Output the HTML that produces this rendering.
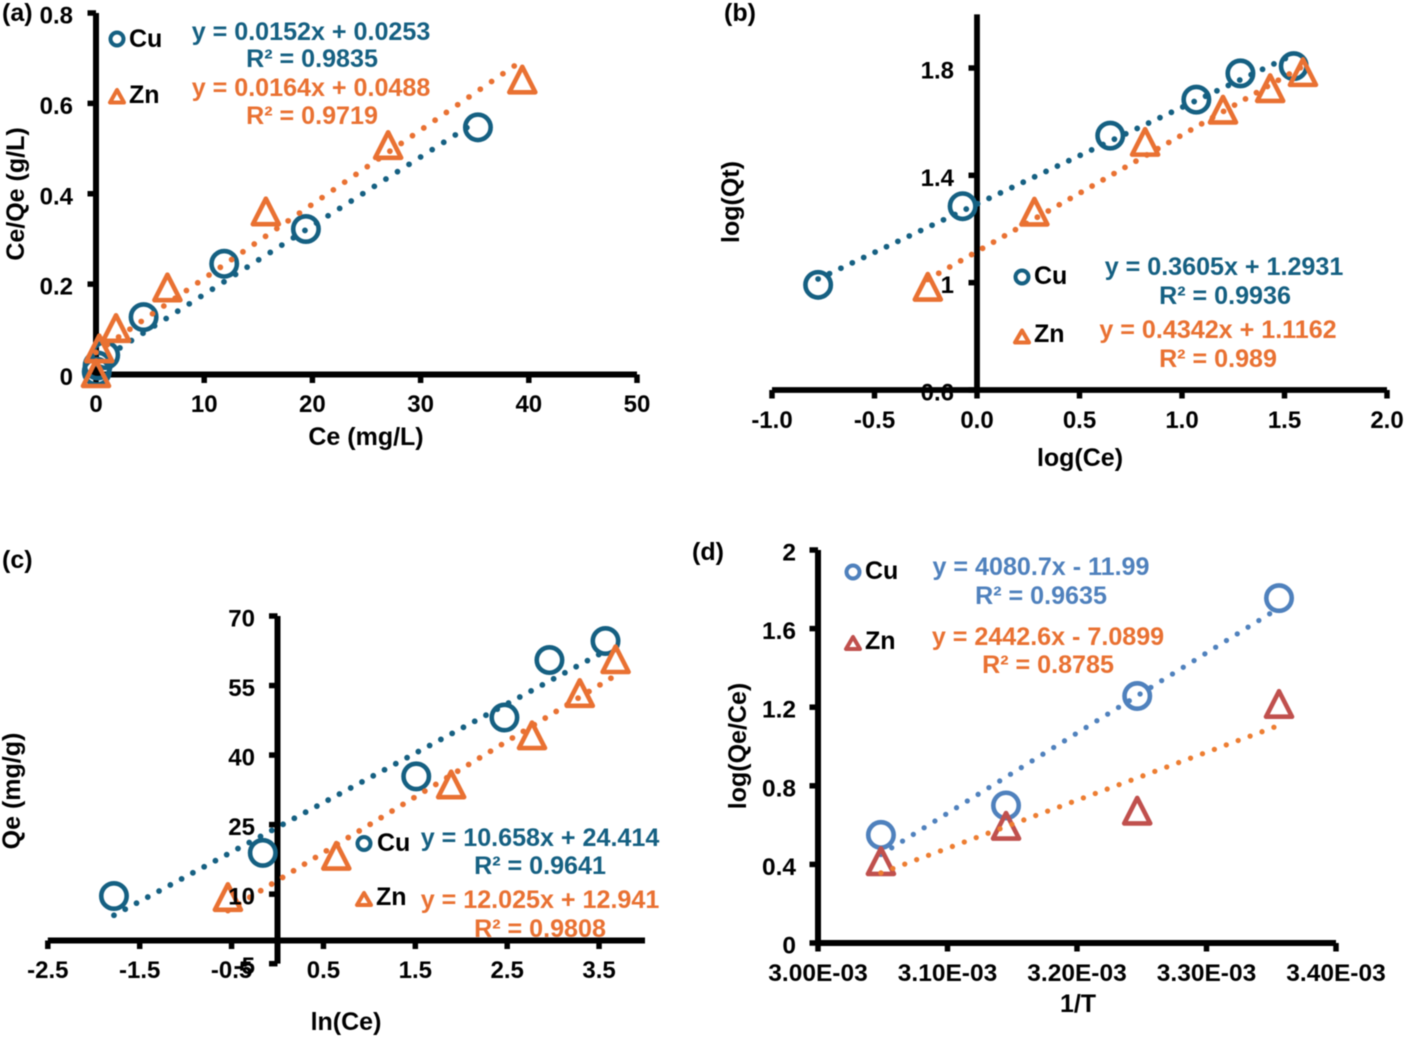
<!DOCTYPE html>
<html lang="en">
<head>
<meta charset="utf-8">
<title>Adsorption isotherm and thermodynamic plots</title>
<style>
html,body{margin:0;padding:0;background:#fff;}
#figure{display:block;width:1406px;height:1037px;filter:blur(0.45px);}
text{font-family:"Liberation Sans",Arial,sans-serif;font-weight:bold;}
.lab{font-size:25px;fill:#000;}
.eq{font-size:25.1px;text-anchor:middle;}
.teal{fill:#156082;} .org{fill:#e97132;} .blue{fill:#4f81bd;} .org2{fill:#e97132;}
.mid{text-anchor:middle;}
</style>
</head>
<body>
<svg id="figure" xmlns="http://www.w3.org/2000/svg" width="1406" height="1037" viewBox="0 0 1406 1037">
  <rect width="1406" height="1037" fill="#fff"/>

  <g id="panel-a"></g>
  <g id="panel-b"></g>
  <g id="panel-c"></g>
  <g id="panel-d"></g>

  <!-- Panel a annotations -->
  <text class="lab" x="2" y="21">(a)</text>
  <text class="lab mid" x="366" y="445">Ce (mg/L)</text>
  <text class="lab mid" transform="translate(24,194) rotate(-90)">Ce/Qe (g/L)</text>
  <circle cx="117" cy="39" r="6.5" fill="none" stroke="#156082" stroke-width="4"/>
  <text class="lab" x="129" y="47">Cu</text>
  <path d="M117 90L110 102.500H124Z" fill="none" stroke="#e97132" stroke-width="4" stroke-linejoin="round"/>
  <text class="lab" x="129" y="103">Zn</text>
  <text class="eq teal" x="311" y="40">y = 0.0152x + 0.0253</text>
  <text class="eq teal" x="312" y="67">R² = 0.9835</text>
  <text class="eq org" x="311" y="96">y = 0.0164x + 0.0488</text>
  <text class="eq org" x="312" y="124">R² = 0.9719</text>

  <!-- Panel b annotations -->
  <text class="lab" x="724" y="21">(b)</text>
  <text class="lab mid" x="1080" y="466">log(Ce)</text>
  <text class="lab mid" transform="translate(739,202) rotate(-90)">log(Qt)</text>
  <circle cx="1022" cy="277" r="6.5" fill="none" stroke="#156082" stroke-width="4"/>
  <text class="lab" x="1034" y="284">Cu</text>
  <path d="M1022 330.500L1015 342.500H1029Z" fill="none" stroke="#e97132" stroke-width="4" stroke-linejoin="round"/>
  <text class="lab" x="1034" y="342">Zn</text>
  <text class="eq teal" x="1224" y="275">y = 0.3605x + 1.2931</text>
  <text class="eq teal" x="1225" y="304">R² = 0.9936</text>
  <text class="eq org" x="1218" y="338">y = 0.4342x + 1.1162</text>
  <text class="eq org" x="1218" y="367">R² = 0.989</text>

  <!-- Panel c annotations -->
  <text class="lab" x="2" y="568">(c)</text>
  <text class="lab mid" x="346" y="1030">ln(Ce)</text>
  <text class="lab mid" transform="translate(20,791) rotate(-90)">Qe (mg/g)</text>
  <circle cx="364" cy="843.500" r="6.5" fill="none" stroke="#156082" stroke-width="4"/>
  <text class="lab" x="377" y="851">Cu</text>
  <path d="M364 893L357 905H371Z" fill="none" stroke="#e97132" stroke-width="4" stroke-linejoin="round"/>
  <text class="lab" x="376" y="905">Zn</text>
  <text class="eq teal" x="540" y="846">y = 10.658x + 24.414</text>
  <text class="eq teal" x="540" y="874">R² = 0.9641</text>
  <text class="eq org" x="540" y="908">y = 12.025x + 12.941</text>
  <text class="eq org" x="540" y="937">R² = 0.9808</text>

  <!-- Panel d annotations -->
  <text class="lab" x="692" y="560">(d)</text>
  <text class="lab mid" x="1078" y="1012">1/T</text>
  <text class="lab mid" transform="translate(746,746) rotate(-90)">log(Qe/Ce)</text>
  <circle cx="853" cy="572" r="6.5" fill="none" stroke="#4f81bd" stroke-width="4"/>
  <text class="lab" x="865" y="579">Cu</text>
  <path d="M853 637L846 649H860Z" fill="none" stroke="#c0504d" stroke-width="4" stroke-linejoin="round"/>
  <text class="lab" x="865" y="649">Zn</text>
  <text class="eq blue" x="1041" y="575">y = 4080.7x - 11.99</text>
  <text class="eq blue" x="1041" y="604">R² = 0.9635</text>
  <text class="eq org2" x="1048" y="645">y = 2442.6x - 7.0899</text>
  <text class="eq org2" x="1048" y="673">R² = 0.8785</text>
</svg>

<script>
// Panel a data: Langmuir
var aCuX = [0.07, 0.15, 0.85, 4.4, 11.85, 19.4, 35.3];
var aCuY = [0.006, 0.02, 0.043, 0.127, 0.245, 0.322, 0.547];
var aZnX = [0, 0.3, 1.85, 6.6, 15.7, 27, 39.4];
var aZnY = [0, 0.055, 0.1, 0.19, 0.358, 0.505, 0.65];
var aCuFit = [0.0152, 0.0253];
var aZnFit = [0.0164, 0.0488];
var aXTicks = ["0", "10", "20", "30", "40", "50"];
var aYTicks = ["0", "0.2", "0.4", "0.6", "0.8"];

// Panel b data: Freundlich
var bCuX = [-0.775, -0.07, 0.65, 1.07, 1.285, 1.545];
var bCuY = [0.992, 1.285, 1.548, 1.682, 1.78, 1.807];
var bZnX = [-0.24, 0.28, 0.82, 1.2, 1.43, 1.59];
var bZnY = [0.98, 1.26, 1.52, 1.64, 1.72, 1.78];
var bCuFit = [0.3605, 1.2931];
var bZnFit = [0.4342, 1.1162];
var bXTicks = ["-1.0", "-0.5", "0.0", "0.5", "1.0", "1.5", "2.0"];
var bYTicks = ["0.6", "1", "1.4", "1.8"];

// Panel c data: Temkin
var cCuX = [-1.78, -0.16, 1.51, 2.47, 2.96, 3.57];
var cCuY = [9.6, 18.9, 35.4, 48.1, 60.5, 64.6];
var cZnX = [-0.54, 0.64, 1.89, 2.77, 3.29, 3.68];
var cZnY = [9.1, 18, 33.4, 44, 53.1, 60.4];
var cCuFit = [10.658, 24.414];
var cZnFit = [12.025, 12.941];
var cXTicks = ["-2.5", "-1.5", "-0.5", "0.5", "1.5", "2.5", "3.5"];
var cYTicks = ["-5", "10", "25", "40", "55", "70"];

// Panel d data: van't Hoff
var dX = [0.0030486, 0.0031452, 0.0032465, 0.003356];
var dCuY = [0.55, 0.70, 1.257, 1.755];
var dZnY = [0.41, 0.59, 0.667, 1.21];
var dCuFit = [4080.7, -11.99];
var dZnFit = [2442.6, -7.0899];
var dXTicks = ["3.00E-03", "3.10E-03", "3.20E-03", "3.30E-03", "3.40E-03"];
var dYTicks = ["0", "0.4", "0.8", "1.2", "1.6", "2"];

var SVGNS = "http://www.w3.org/2000/svg";

function shape(parent, tag, attrs) {
  var node = document.createElementNS(SVGNS, tag);
  for (var k in attrs) { node.setAttribute(k, attrs[k]); }
  parent.appendChild(node);
  return node;
}

function linear(d0, d1, r0, r1) {
  return function (v) { return r0 + (v - d0) * (r1 - r0) / (d1 - d0); };
}

function drawAxes(g, o) {
  var sx = o.sx, sy = o.sy, el, i, v;
  el = shape(g, "line", {x1: sx(o.xMin), x2: sx(o.xMax), y1: sy(o.yCross), y2: sy(o.yCross), stroke: "#000", "stroke-width": o.axisW});
  
  
  el = shape(g, "line", {x1: sx(o.xCross), x2: sx(o.xCross), y1: sy(o.yMin), y2: sy(o.yMax), stroke: "#000", "stroke-width": o.axisW});
  
  
  for (i = 0; i < o.xTicks.length; i++) {
    v = parseFloat(o.xTicks[i]);
    el = shape(g, "line", {x1: sx(v), x2: sx(v), y1: sy(o.yCross), y2: sy(o.yCross) + 8.5, stroke: "#000", "stroke-width": 5.5});
    
    
  }
  for (i = 0; i < o.yTicks.length; i++) {
    v = parseFloat(o.yTicks[i]);
    el = shape(g, "line", {x1: sx(o.xCross) - 8.5, x2: sx(o.xCross), y1: sy(v), y2: sy(v), stroke: "#000", "stroke-width": 5.5});
    
    
  }
}

function drawTickLabels(g, o) {
  var sx = o.sx, sy = o.sy, el, i, v;
  for (i = 0; i < o.xTicks.length; i++) {
    v = parseFloat(o.xTicks[i]);
    el = shape(g, "text", {x: sx(v), y: o.xLabelY, "text-anchor": "middle", "font-size": o.tickFont, fill: "#000"});
    el.textContent = o.xTicks[i];
    
    
  }
  for (i = 0; i < o.yTicks.length; i++) {
    v = parseFloat(o.yTicks[i]);
    el = shape(g, "text", {x: o.yLabelX, y: sy(v) + 10.5, "text-anchor": "end", "font-size": o.tickFont, fill: "#000"});
    el.textContent = o.yTicks[i];
    
    
  }
}

function drawCircles(g, o, xs, ys, color) {
  for (var i = 0; i < xs.length; i++) {
    var el = shape(g, "circle", {cx: o.sx(xs[i]), cy: o.sy(ys[i]), r: 12.7, fill: "none", stroke: color, "stroke-width": 4.6});
    
    
  }
}

function drawTriangles(g, o, xs, ys, color) {
  for (var i = 0; i < xs.length; i++) {
    var cx = o.sx(xs[i]), cy = o.sy(ys[i]);
    var d = "M" + cx + " " + (cy - 14) + "L" + (cx - 13) + " " + (cy + 11.500) + "H" + (cx + 13) + "Z";
    var el = shape(g, "path", {d: d, fill: "none", stroke: color, "stroke-width": 4.6, "stroke-linejoin": "round"});
    
    
  }
}

function drawFit(g, o, xs, fit, color, name) {
  var x0 = Math.min.apply(null, xs), x1 = Math.max.apply(null, xs);
  var el = shape(g, "line", {
    x1: o.sx(x0), y1: o.sy(fit[0] * x0 + fit[1]),
    x2: o.sx(x1), y2: o.sy(fit[0] * x1 + fit[1]),
    stroke: color, "stroke-width": o.dotW, "stroke-linecap": "round",
    "stroke-dasharray": "0 " + o.dotGap
  });
  
  
}

function drawPanel(id, o, cu, zn) {
  var g = document.getElementById(id);
  drawAxes(g, o);
  drawCircles(g, o, cu.x, cu.y, cu.marker);
  drawFit(g, o, cu.x, cu.fit, cu.line, "cu-trendline");
  drawTriangles(g, o, zn.x, zn.y, zn.marker);
  drawFit(g, o, zn.x, zn.fit, zn.line, "zn-trendline");
  drawTickLabels(g, o);
}

drawPanel("panel-a", {
  sx: linear(0, 50, 96, 637), sy: linear(0, 0.8, 374.5, 13),
  xMin: 0, xMax: 50, yMin: 0, yMax: 0.8, xCross: 0, yCross: 0,
  xTicks: aXTicks, yTicks: aYTicks, xLabelY: 412, yLabelX: 73,
  tickFont: 24, axisW: 6, dotW: 5.8, dotGap: 13.7
}, {x: aCuX, y: aCuY, fit: aCuFit, marker: "#156082", line: "#156082"},
   {x: aZnX, y: aZnY, fit: aZnFit, marker: "#e97132", line: "#e97132"});

drawPanel("panel-b", {
  sx: linear(-1, 2, 772, 1387), sy: linear(0.6, 1.8, 390, 68),
  xMin: -1, xMax: 2, yMin: 0.6, yMax: 2, xCross: 0, yCross: 0.6,
  xTicks: bXTicks, yTicks: bYTicks, xLabelY: 428, yLabelX: 954,
  tickFont: 24, axisW: 5.8, dotW: 5.8, dotGap: 12.6
}, {x: bCuX, y: bCuY, fit: bCuFit, marker: "#156082", line: "#156082"},
   {x: bZnX, y: bZnY, fit: bZnFit, marker: "#e97132", line: "#e97132"});

drawPanel("panel-c", {
  sx: linear(0, 4, 277.5, 645), sy: linear(0, 70, 940.5, 616),
  xMin: -2.5, xMax: 4, yMin: -5, yMax: 70, xCross: 0, yCross: 0,
  xTicks: cXTicks, yTicks: cYTicks, xLabelY: 978, yLabelX: 255,
  tickFont: 24, axisW: 6, dotW: 5.8, dotGap: 12.8
}, {x: cCuX, y: cCuY, fit: cCuFit, marker: "#156082", line: "#156082"},
   {x: cZnX, y: cZnY, fit: cZnFit, marker: "#e97132", line: "#e97132"});

drawPanel("panel-d", {
  sx: linear(0.003, 0.0034, 818, 1336), sy: linear(0, 2, 943, 550),
  xMin: 0.003, xMax: 0.0034, yMin: 0, yMax: 2, xCross: 0.003, yCross: 0,
  xTicks: dXTicks, yTicks: dYTicks, xLabelY: 981, yLabelX: 796,
  tickFont: 24.5, axisW: 6, dotW: 5.3, dotGap: 12.7
}, {x: dX, y: dCuY, fit: dCuFit, marker: "#4f81bd", line: "#4f81bd"},
   {x: dX, y: dZnY, fit: dZnFit, marker: "#c0504d", line: "#ed7d31"});
</script>
</body>
</html>
